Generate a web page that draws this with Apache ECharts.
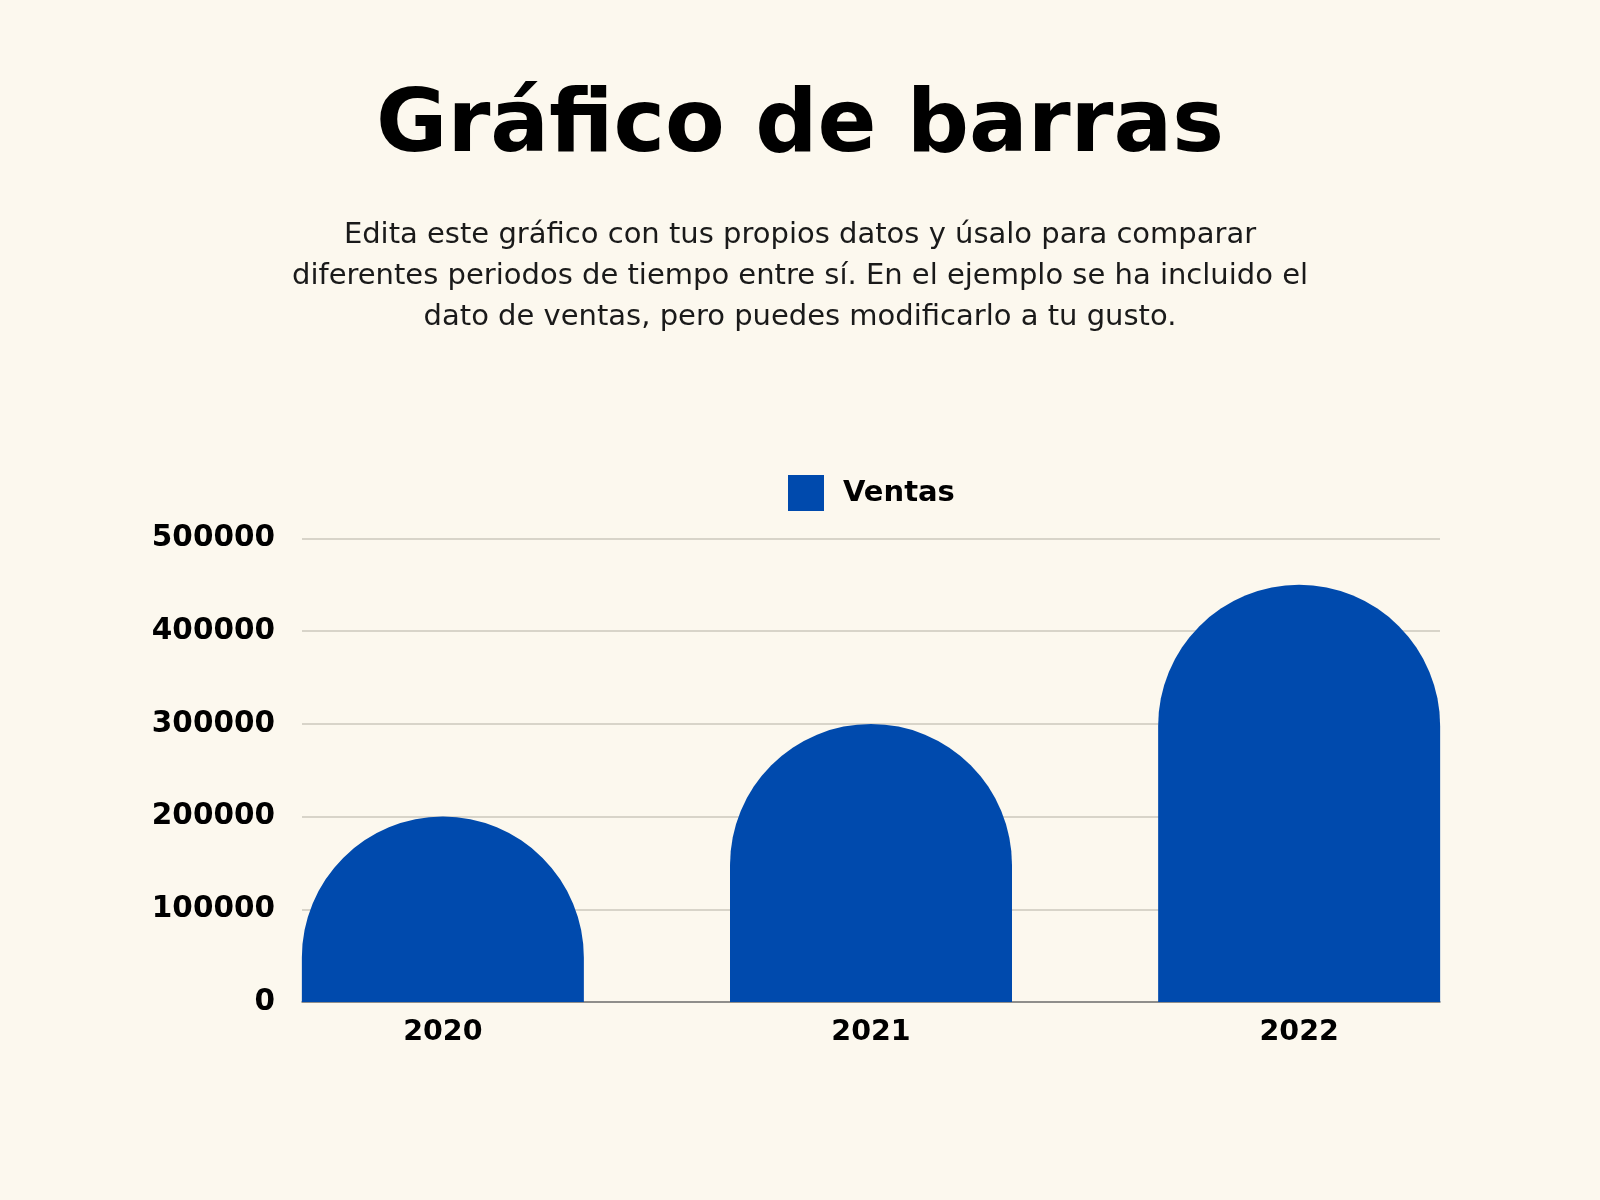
<!DOCTYPE html>
<html>
<head>
<meta charset="utf-8">
<script src="https://cdn.jsdelivr.net/npm/echarts@6/dist/echarts.min.js"></script>
<style>
  html, body { margin: 0; padding: 0; background: #FCF8EE; }
  #chart { width: 1600px; height: 1200px; }
</style>
</head>
<body>
<div id="chart"></div>
<script>
const titleText = 'Gráfico de barras';
const subtitleLines = [
  'Edita este gráfico con tus propios datos y úsalo para comparar',
  'diferentes periodos de tiempo entre sí. En el ejemplo se ha incluido el',
  'dato de ventas, pero puedes modificarlo a tu gusto.'
];
const seriesName = 'Ventas';
const years = ['2020', '2021', '2022'];
const ventas = [200000, 300000, 450000];
const yTicks = [0, 100000, 200000, 300000, 400000, 500000];

const chart = echarts.init(document.getElementById('chart'));
const barData = ventas.map((v, i) => [i, v]);

chart.setOption({
  backgroundColor: '#FCF8EE',
  title: [
    {
      text: titleText,
      left: 'center',
      top: 80,
      textStyle: { fontFamily: 'DejaVu Sans', fontWeight: 'bold', fontSize: 87, color: '#000' }
    },
    {
      text: subtitleLines.join('\n'),
      left: 'center',
      top: 210,
      textStyle: { fontFamily: 'DejaVu Sans', fontWeight: 'normal', fontSize: 29, lineHeight: 41, color: '#1a1a1a', align: 'center' }
    }
  ],
  legend: {
    left: 783,
    top: 470,
    itemWidth: 36,
    itemHeight: 36,
    icon: 'rect',
    data: [seriesName],
    textStyle: { fontFamily: 'DejaVu Sans', fontWeight: 'bold', fontSize: 29, color: '#000', padding: [0, 0, 0, 14] }
  },
  grid: { left: 302, right: 160, top: 538.5, bottom: 198, containLabel: false },
  xAxis: {
    type: 'value',
    min: -0.329,
    max: 2.329,
    splitLine: { show: false },
    axisTick: { show: false },
    axisLine: { show: true, lineStyle: { color: '#777', width: 1.5 } },
    axisLabel: {
      customValues: years.map((_, i) => i),
      formatter: (v) => years[Math.round(v)] || '',
      fontFamily: 'DejaVu Sans', fontWeight: 'bold', fontSize: 28.5, color: '#000', margin: 16
    }
  },
  yAxis: {
    type: 'value',
    min: yTicks[0],
    max: yTicks[yTicks.length - 1],
    interval: yTicks[1] - yTicks[0],
    axisLine: { show: false },
    axisTick: { show: false },
    splitLine: { show: true, lineStyle: { color: '#cdc8bc', width: 1.5 } },
    axisLabel: {
      formatter: (v) => String(v),
      fontFamily: 'DejaVu Sans', fontWeight: 'bold', fontSize: 29.5, color: '#000', margin: 27
    }
  },
  series: [{
    name: seriesName,
    type: 'bar',
    data: barData,
    barWidth: 282,
    itemStyle: { color: '#004AAD', borderRadius: [141, 141, 0, 0] },
    emphasis: { disabled: true },
    animation: false
  }],
  animation: false
});
</script>
</body>
</html>
